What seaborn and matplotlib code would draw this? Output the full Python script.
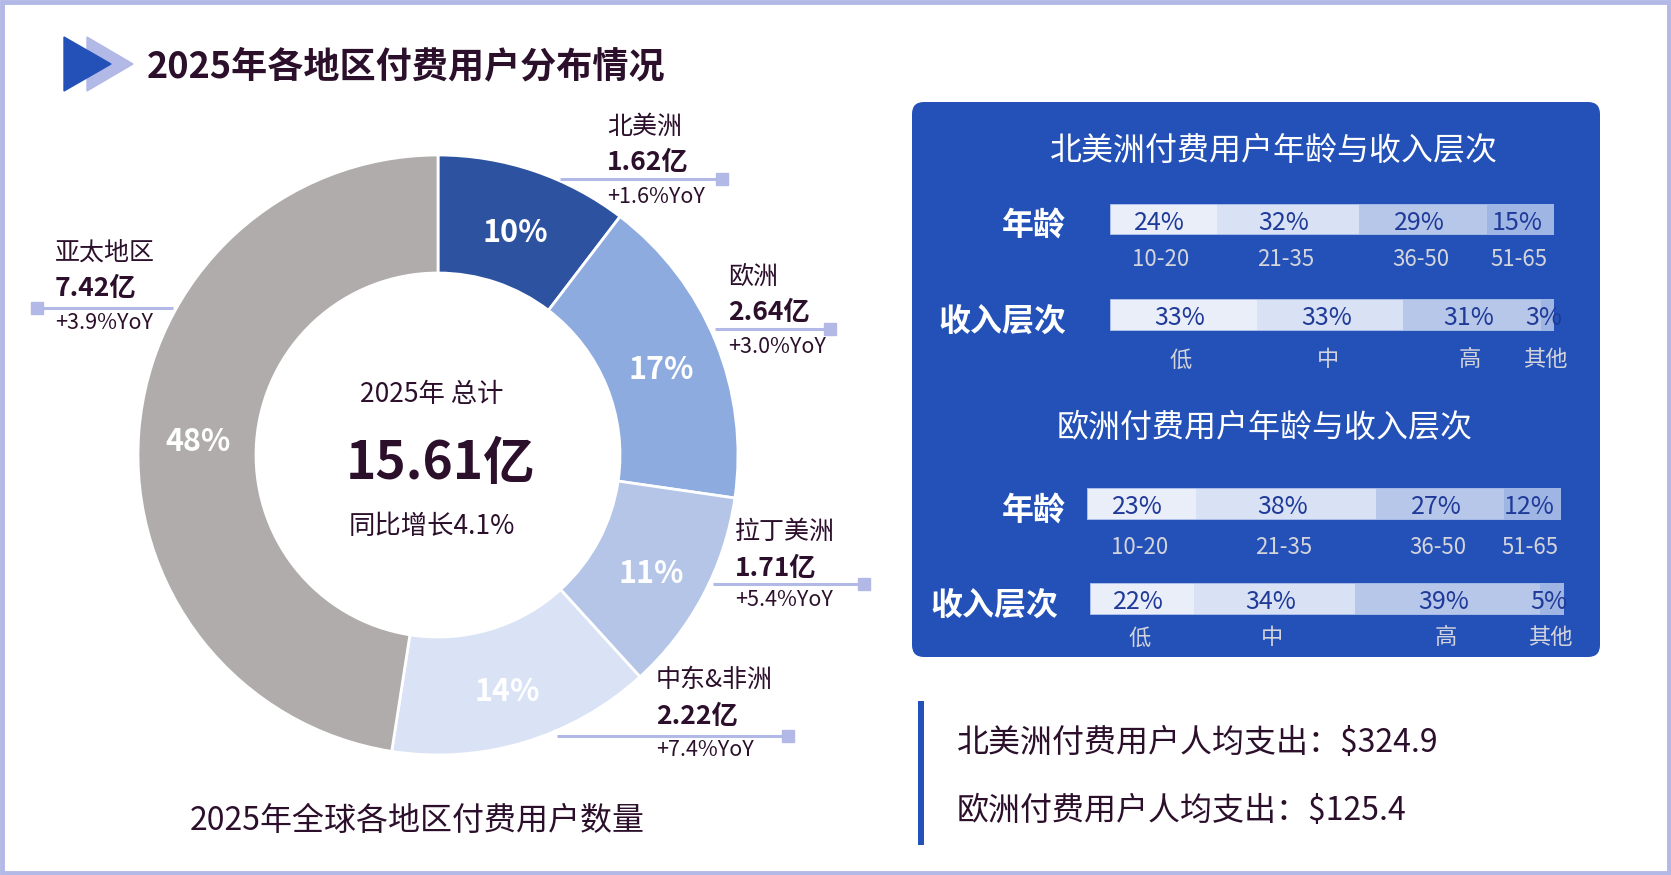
import matplotlib
matplotlib.use('Agg')
import matplotlib.pyplot as plt
import seaborn as sns
from matplotlib.patches import Polygon, Rectangle, FancyBboxPatch

sns.set_theme(style='white')
plt.rcParams['font.family'] = ['Noto Sans CJK SC', 'DejaVu Sans']

# data
regions = ['北美洲', '欧洲', '拉丁美洲', '中东&非洲', '亚太地区']
users = [1.62, 2.64, 1.71, 2.22, 7.42]          # 亿
yoy = [1.6, 3.0, 5.4, 7.4, 3.9]                  # %
total_growth = 4.1

age_groups = ['10-20', '21-35', '36-50', '51-65']
income_levels = ['低', '中', '高', '其他']
na_age = [24, 32, 29, 15]
na_income = [33, 33, 31, 3]
eu_age = [23, 38, 27, 12]
eu_income = [22, 34, 39, 5]

na_spend = 324.9
eu_spend = 125.4

DARK = '#2b0f2b'
BLUE = '#2351b7'
LAV = '#b3b9e6'
pie_colors = ['#2c52a0', '#8eabe0', '#b4c5e8', '#dae3f5', '#b0acab']
seg_colors = ['#e9eef9', '#d9e2f4', '#b6c7ea', '#9fb6e4']

W, H = 1671, 875
fig = plt.figure(figsize=(W / 100, H / 100), dpi=100)
fig.patch.set_facecolor('white')
ax = fig.add_axes([0, 0, 1, 1])


def Y(y):
    return H - y


def T(y):
    # text centre: CJK glyphs sit a little high with va='center'
    return H - y - 3


# donut
wedges, texts, autotexts = ax.pie(
    users, colors=pie_colors, startangle=90, counterclock=False,
    radius=300, center=(438, Y(455)),
    wedgeprops=dict(width=118, edgecolor='white', linewidth=2),
    autopct='%.0f%%', pctdistance=241 / 300,
    textprops=dict(color='white', fontsize=22, fontweight='bold'))
for t in autotexts:
    x, y = t.get_position()
    t.set_position((x, y - 6))
ax.set_xlim(0, W)
ax.set_ylim(0, H)
ax.axis('off')

# border + title
ax.add_patch(Rectangle((2, 2), W - 4, H - 4, fill=False, ec=LAV, lw=3.5))
ax.add_patch(Polygon([(87, Y(37)), (133, Y(64)), (87, Y(91))], color=LAV))
ax.add_patch(Polygon([(64, Y(37)), (111, Y(64)), (64, Y(91))], color=BLUE))
ax.text(147, T(64), '2025年各地区付费用户分布情况', fontsize=26, fontweight='bold',
        color=DARK, va='center', ha='left')

# centre of donut
ax.text(432, T(392), '2025年 总计', fontsize=19, color=DARK, ha='center', va='center')
ax.text(440, T(460), f'{sum(users):.2f}亿', fontsize=37, fontweight='bold',
        color=DARK, ha='center', va='center')
ax.text(432, T(524), f'同比增长{total_growth}%', fontsize=19, color=DARK,
        ha='center', va='center')
ax.text(417, T(818), '2025年全球各地区付费用户数量', fontsize=23, color=DARK,
        ha='center', va='center')

# region call-outs: text x, name y, value y, line y, line x (start, marker end), yoy y
callouts = [
    (607, 127, 163, 179, (560, 722), 197),
    (728, 277, 313, 329, (715, 830), 347),
    (735, 532, 568, 584, (713, 864), 600),
    (656, 680, 717, 736, (557, 788), 750),
    (55, 253, 288, 308, (173, 37), 323),
]
for name, val, g, (tx, ny, vy, ly, lx, yy) in zip(regions, users, yoy, callouts):
    ax.plot(lx, [Y(ly), Y(ly)], color=LAV, lw=2.2, solid_capstyle='butt')
    ax.plot([lx[1]], [Y(ly)], marker='s', ms=8.5, color=LAV)
    ax.text(tx, Y(ny), name, fontsize=18, color=DARK, va='center')
    ax.text(tx, Y(vy), f'{val:.2f}亿', fontsize=19, fontweight='bold', color=DARK, va='center')
    ax.text(tx, Y(yy), f'+{g:.1f}%YoY', fontsize=15.5, color=DARK, va='center')

# right panel
ax.add_patch(FancyBboxPatch((912, Y(657)), 1600 - 912, 657 - 102,
                            boxstyle='round,pad=0,rounding_size=12', fc=BLUE, ec='none'))
ax.text(1274, T(148), '北美洲付费用户年龄与收入层次', fontsize=23, color='white',
        ha='center', va='center')
ax.text(1265, T(425), '欧洲付费用户年龄与收入层次', fontsize=23, color='white',
        ha='center', va='center')

# stacked bars: values, tick labels, x0, x1, y0, y1, tick label y, row label, row label right x
bars = [
    (na_age, age_groups, 1110, 1554, 204, 235, 257, '年龄', 1066),
    (na_income, income_levels, 1110, 1554, 299, 331, 357, '收入层次', 1066),
    (eu_age, age_groups, 1087, 1561, 488, 520, 544, '年龄', 1066),
    (eu_income, income_levels, 1090, 1564, 583, 615, 635, '收入层次', 1058),
]
for vals, labels, x0, x1, y0, y1, ty, row, rx in bars:
    bax = fig.add_axes([x0 / W, Y(y1) / H, (x1 - x0) / W, (y1 - y0) / H])
    bax.set_xlim(0, sum(vals))
    bax.set_ylim(-0.5, 0.5)
    bax.axis('off')
    left = 0
    for v, lab, c in zip(vals, labels, seg_colors):
        bax.barh(0, v, left=left, height=1, color=c, edgecolor='none')
        mid = left + v / 2
        bax.text(mid - 0.8, -0.1, f'{v}%', fontsize=18, color='#1f3a98', ha='center',
                 va='center', clip_on=False)
        bax.text(mid - 0.5, 0.5 - (ty + 3 - y0) / (y1 - y0), lab, fontsize=16, color='#d4d4dc',
                 ha='center', va='center', clip_on=False)
        left += v
    bax.add_patch(Rectangle((0, -0.5), sum(vals), 1, fill=False, ec='#9fb4e6', lw=1.2))
    ax.text(rx, T((y0 + y1) / 2 + 4), row, fontsize=23, fontweight='bold', color='white',
            ha='right', va='center')

# spend notes
ax.add_patch(Rectangle((918, Y(845)), 6, 845 - 701, color=BLUE, ec='none'))
ax.text(957, T(740), f'北美洲付费用户人均支出：${na_spend}', fontsize=23, color=DARK, va='center')
ax.text(957, T(808), f'欧洲付费用户人均支出：${eu_spend}', fontsize=23, color=DARK, va='center')

fig.savefig('out.png', dpi=100)
